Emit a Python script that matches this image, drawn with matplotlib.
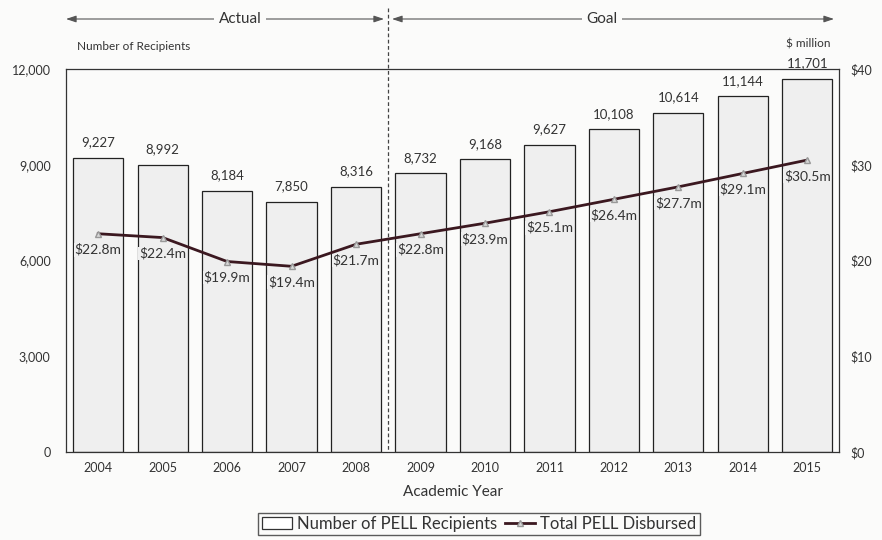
import matplotlib
matplotlib.use("Agg")
import matplotlib.pyplot as plt
from matplotlib.patches import Patch
from matplotlib.lines import Line2D

years = ["2004", "2005", "2006", "2007", "2008", "2009", "2010", "2011",
         "2012", "2013", "2014", "2015"]
recipients = [9227, 8992, 8184, 7850, 8316, 8732, 9168, 9627, 10108, 10614, 11144, 11701]
disbursed = [22.8, 22.4, 19.9, 19.4, 21.7, 22.8, 23.9, 25.1, 26.4, 27.7, 29.1, 30.5]
left_ticks = [0, 3000, 6000, 9000, 12000]
right_ticks = [0, 10, 20, 30, 40]

plt.rcParams['font.family'] = ['Lato', 'DejaVu Sans']
ink = "#333333"
bar_fill = "#efefef"

fig = plt.figure(figsize=(8.82, 5.40), dpi=100, facecolor="#fbfbfa")
ax = fig.add_axes([0.0748, 0.163, 0.877, 0.709])
ax.set_facecolor("#fbfbfa")
x = list(range(len(years)))

ax.bar(x, recipients, width=0.78, color=bar_fill, edgecolor="#222222", linewidth=0.9, zorder=2)
ax.set_xlim(-0.5, 11.5)
ax.set_ylim(0, 12000)
ax.set_yticks(left_ticks)
ax.set_yticklabels([f"{v:,}" for v in left_ticks])
ax.set_xticks(x)
ax.set_xticklabels(years)
ax.tick_params(length=0, labelsize=9, colors=ink, pad=7)
ax.tick_params(axis="y", pad=11)
for s in ax.spines.values():
    s.set_color("#333333")
    s.set_linewidth(0.9)

for xi, v in zip(x, recipients):
    ax.annotate(f"{v:,}", (xi, v), xytext=(0, 7), textcoords="offset points",
                ha="center", va="bottom", fontsize=9.5, color=ink, zorder=5)

ax2 = ax.twinx()
ax2.set_ylim(0, 40)
ax2.set_yticks(right_ticks)
ax2.set_yticklabels([f"${v}" for v in right_ticks])
ax2.tick_params(length=0, labelsize=9, colors=ink, pad=8)
for s in ax2.spines.values():
    s.set_visible(False)
ax2.plot(x, disbursed, color="#3b1820", linewidth=2.0, marker="^", markersize=5,
         markerfacecolor="#d8d8d8", markeredgecolor="#999999", zorder=4)
for xi, v in zip(x, disbursed):
    ax2.annotate(f"${v}m", (xi, v), xytext=(0, -7), textcoords="offset points",
                 ha="center", va="top", fontsize=10, color=ink,
                 bbox=dict(boxstyle="square,pad=0.05", fc=bar_fill, ec="none"))

ax.set_xlabel("Academic Year", fontsize=11, color=ink, labelpad=8)

# Actual / Goal divider
fig.add_artist(Line2D([388 / 882, 388 / 882], [1 - 8 / 540, 1 - 452 / 540],
                      color="#444444", linewidth=0.9, linestyle=(0, (3, 2))))

def span_arrow(x0, x1, label, xl):
    y = 1 - 19 / 540
    fig.text(xl / 882, y, label, ha="center", va="center", fontsize=11, color=ink,
             bbox=dict(boxstyle="square,pad=0.3", fc="#fbfbfa", ec="none"), zorder=3)
    ax.annotate("", xy=(x1 / 882, y), xytext=(x0 / 882, y), xycoords="figure fraction",
                textcoords="figure fraction",
                arrowprops=dict(arrowstyle="<|-|>,head_length=0.6,head_width=0.2",
                                color="#555555", lw=0.8, shrinkA=0, shrinkB=0))

span_arrow(66, 384, "Actual", 240)
span_arrow(392, 834, "Goal", 602)

fig.text(77 / 882, 1 - 47 / 540, "Number of Recipients", fontsize=8.5, color=ink,
         ha="left", va="center")
fig.text(808 / 882, 1 - 44 / 540, "$ million", fontsize=8.5, color=ink,
         ha="center", va="center")

handles = [Patch(facecolor="white", edgecolor="#333333", linewidth=0.9),
           Line2D([], [], color="#3b1820", linewidth=2.0, marker="^", markersize=4,
                  markerfacecolor="#d8d8d8", markeredgecolor="#999999")]
fig.legend(handles, ["Number of PELL Recipients", "Total PELL Disbursed"],
           loc="center", bbox_to_anchor=(479 / 882, 1 - 524 / 540), ncol=2,
           fontsize=12, frameon=True, fancybox=False, edgecolor="#333333",
           handlelength=1.8, handletextpad=0.3, columnspacing=0.5, borderpad=0.2,
           labelcolor=ink, facecolor="#fbfbfa")

fig.savefig("out.png", dpi=100, facecolor=fig.get_facecolor())
